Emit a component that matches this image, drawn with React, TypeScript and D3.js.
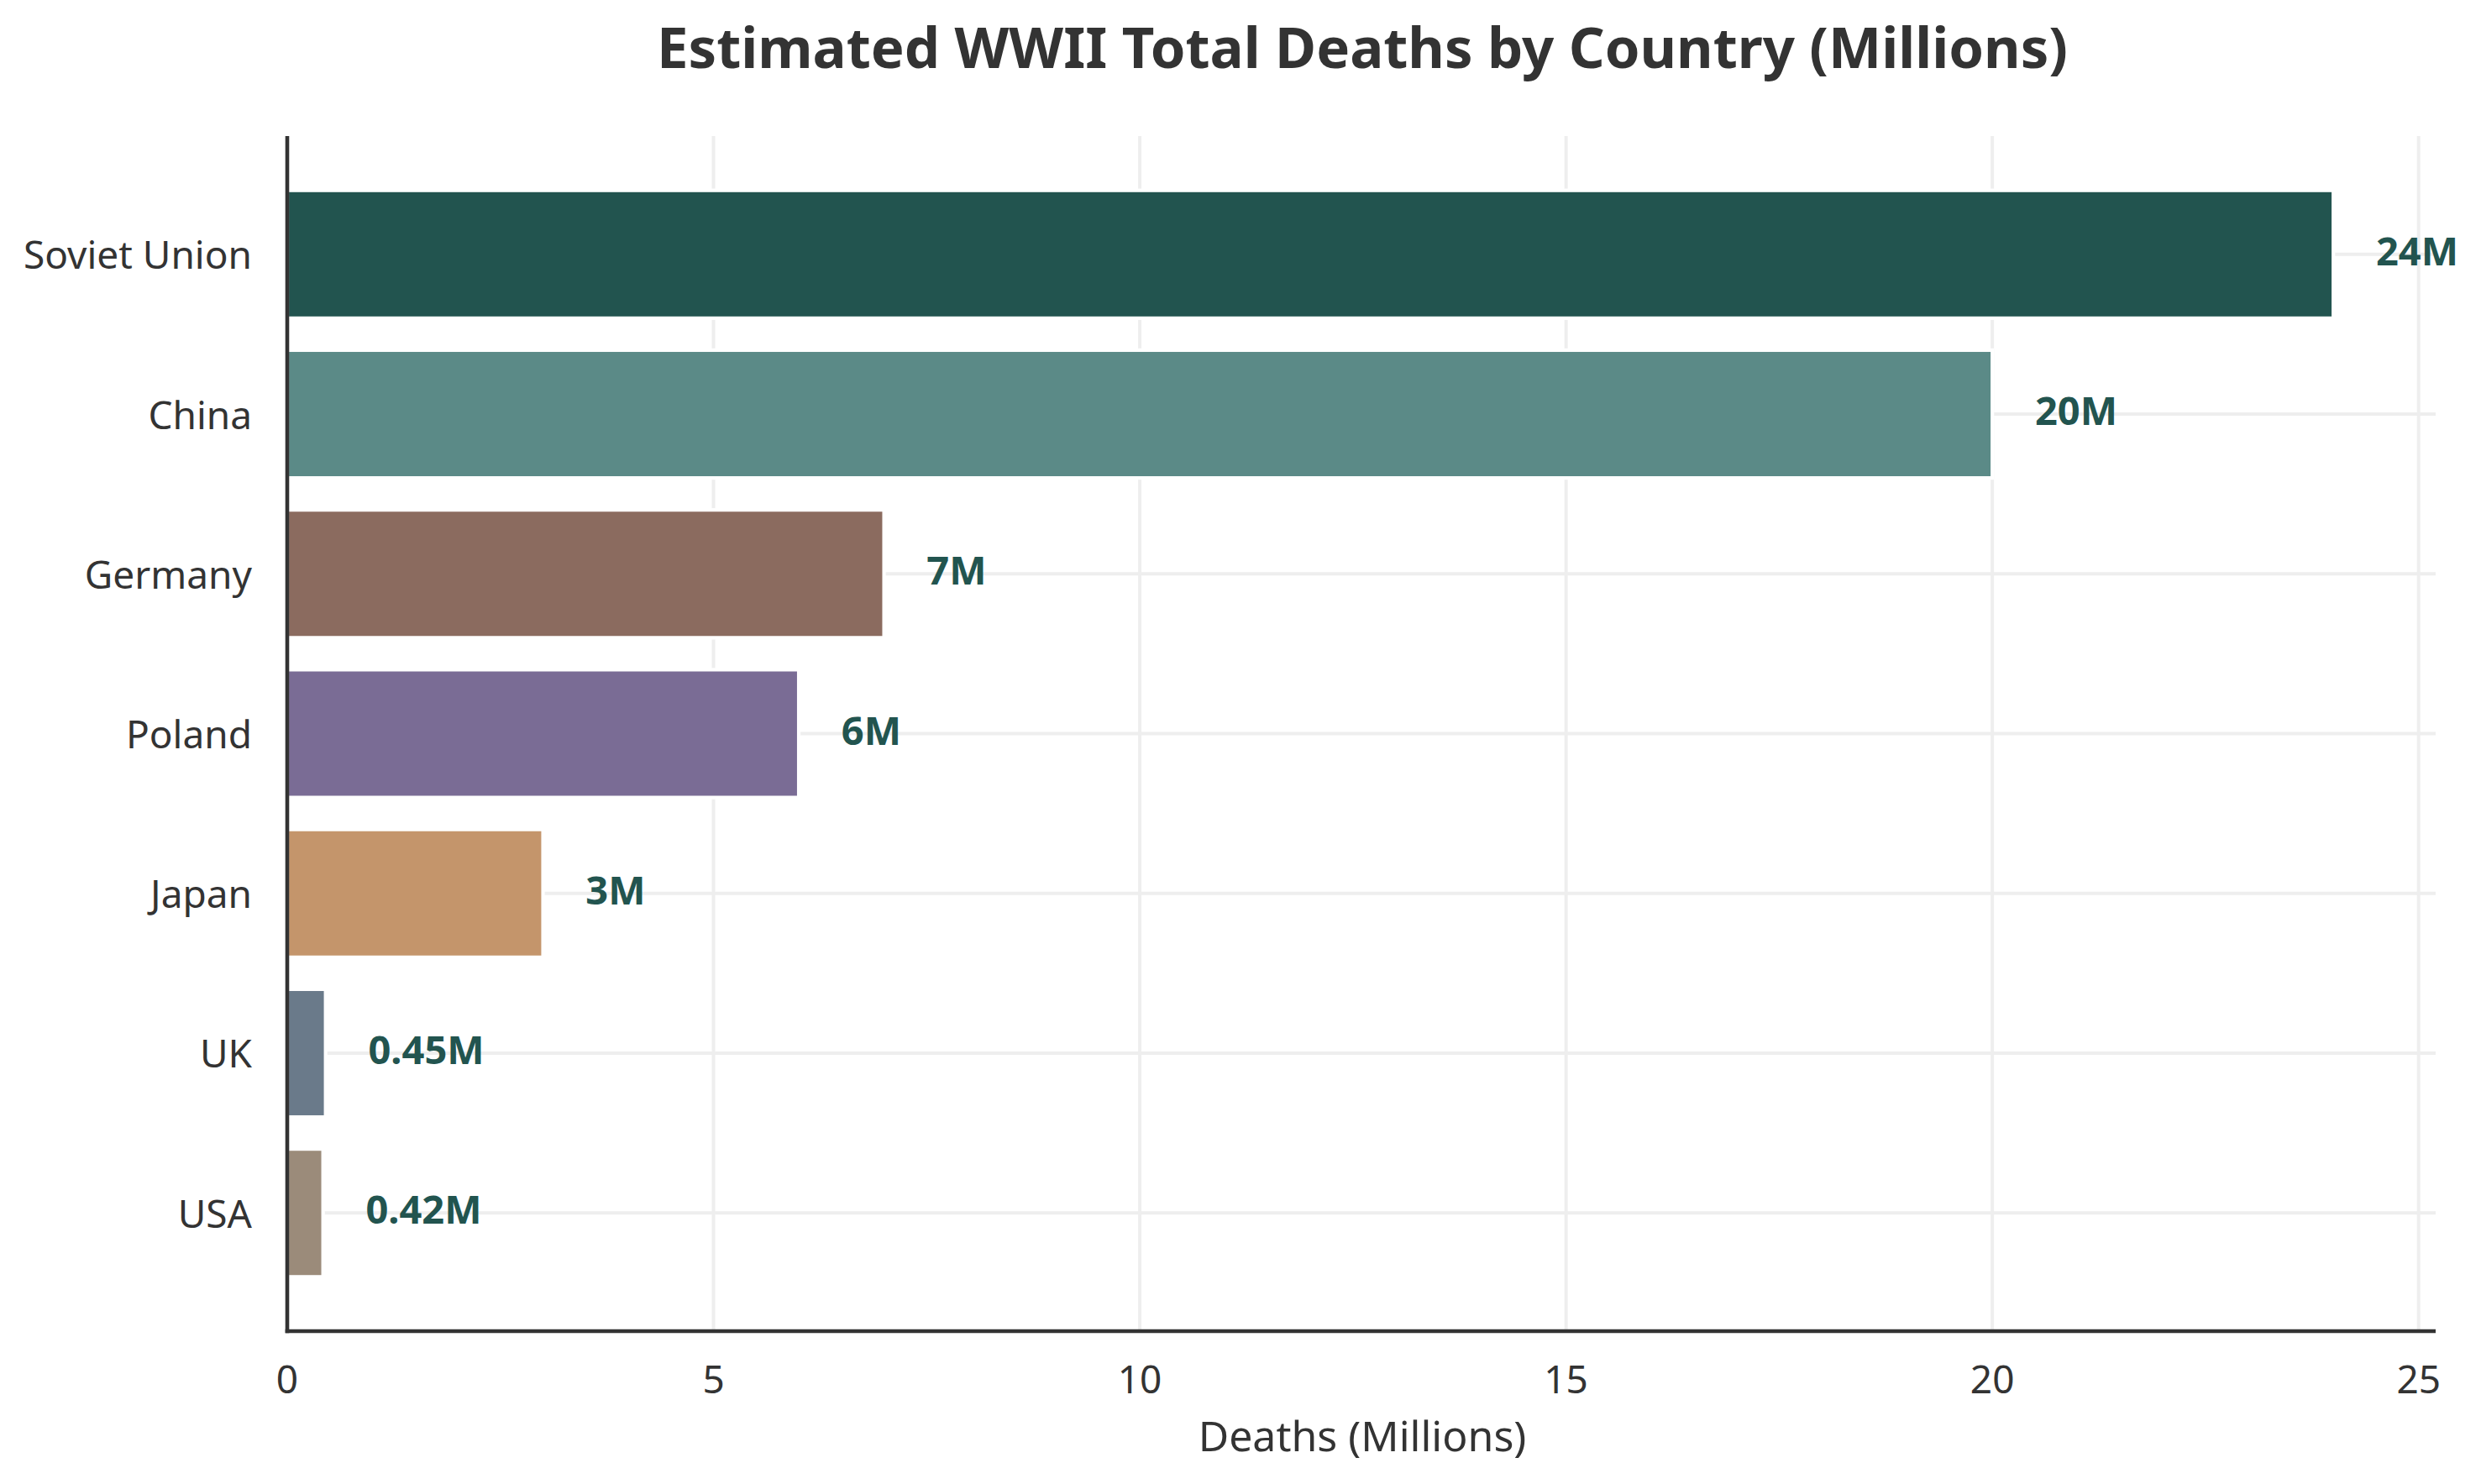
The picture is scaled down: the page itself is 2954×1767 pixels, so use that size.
import React, { useEffect } from "react";
import * as d3 from "d3";

const countries = ["Soviet Union", "China", "Germany", "Poland", "Japan", "UK", "USA"];
const deaths = [24, 20, 7, 6, 3, 0.45, 0.42];
const labels = ["24M", "20M", "7M", "6M", "3M", "0.45M", "0.42M"];
const colors = ["#22544f", "#5b8a87", "#8b6b5f", "#7a6c95", "#c4956b", "#6a7a8a", "#9b8b7a"];
const xTicks = [0, 5, 10, 15, 20, 25];

const W = 2954;
const H = 1767;
const FONT = "'Noto Sans', 'Open Sans', sans-serif";

export default function App() {
  useEffect(() => {
    document.body.style.margin = "0";
    document.body.style.overflow = "hidden";
  }, []);

  const x = d3.scaleLinear().domain([0, 25.2]).range([342, 2900]);
  const y = d3.scaleLinear().domain([-0.74, 6.74]).range([162, 1585]);
  const step = y(1) - y(0);
  const barH = step * 0.8;

  return (
    <svg width={W} height={H} style={{ position: "absolute", left: 0, top: 0, display: "block", background: "#fff" }}>
      <rect x={0} y={0} width={W} height={H} fill="#fff" />
      <text x={1622} y={81} textAnchor="middle" fontFamily={FONT} fontWeight={700} fontSize={67} fill="#333">
        Estimated WWII Total Deaths by Country (Millions)
      </text>
      {/* grid */}
      {xTicks.map((t) => (
        <line key={"gx" + t} x1={x(t)} x2={x(t)} y1={y(-0.74)} y2={y(6.74)} stroke="#eeeeee" strokeWidth={4} />
      ))}
      {countries.map((c, i) => (
        <line key={"gy" + c} x1={x(0)} x2={x(25.2)} y1={y(i)} y2={y(i)} stroke="#eeeeee" strokeWidth={4} />
      ))}
      {/* bars */}
      {countries.map((c, i) => (
        <rect
          key={"b" + c}
          x={x(0)}
          y={y(i) - barH / 2}
          width={x(deaths[i]) - x(0)}
          height={barH}
          fill={colors[i]}
          stroke="#fff"
          strokeWidth={4.2}
        />
      ))}
      {/* value labels */}
      {countries.map((c, i) => (
        <text
          key={"v" + c}
          x={x(deaths[i] + 0.5)}
          y={y(i) + 13}
          fontFamily={FONT}
          fontWeight={700}
          fontSize={47}
          fill="#22544f"
        >
          {labels[i]}
        </text>
      ))}
      {/* spines */}
      <line x1={x(0)} x2={x(0)} y1={y(-0.74)} y2={y(6.74) + 2.3} stroke="#333" strokeWidth={4.6} />
      <line x1={x(0) - 2.3} x2={x(25.2)} y1={y(6.74)} y2={y(6.74)} stroke="#333" strokeWidth={4.6} />
      {/* y tick labels */}
      {countries.map((c, i) => (
        <text key={"yl" + c} x={300} y={y(i) + 17.5} textAnchor="end" fontFamily={FONT} fontSize={46} fill="#333">
          {c}
        </text>
      ))}
      {/* x tick labels */}
      {xTicks.map((t) => (
        <text key={"xl" + t} x={x(t)} y={1659} textAnchor="middle" fontFamily={FONT} fontSize={46} fill="#333">
          {t}
        </text>
      ))}
      <text x={1622} y={1728} textAnchor="middle" fontFamily={FONT} fontSize={50} fill="#333">
        Deaths (Millions)
      </text>
    </svg>
  );
}
